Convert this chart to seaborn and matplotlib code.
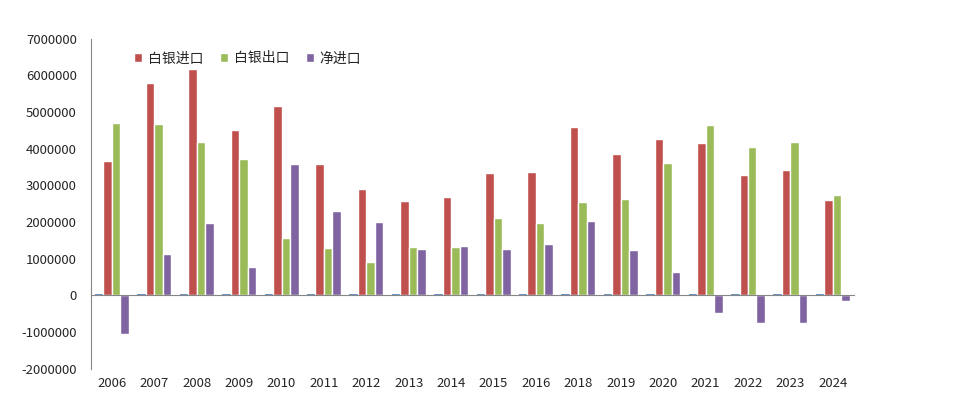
import pandas as pd
import seaborn as sns
import matplotlib.pyplot as plt

# Data
years = ["2006", "2007", "2008", "2009", "2010", "2011", "2012", "2013", "2014",
         "2015", "2016", "2018", "2019", "2020", "2021", "2022", "2023", "2024"]
year_values = [2006, 2007, 2008, 2009, 2010, 2011, 2012, 2013, 2014,
               2015, 2016, 2018, 2019, 2020, 2021, 2022, 2023, 2024]
silver_import = [3670000, 5800000, 6190000, 4500000, 5170000, 3590000, 2910000, 2580000, 2690000,
                 3340000, 3370000, 4600000, 3860000, 4270000, 4160000, 3290000, 3420000, 2610000]
silver_export = [4700000, 4680000, 4190000, 3720000, 1560000, 1290000, 920000, 1330000, 1330000,
                 2120000, 1980000, 2550000, 2630000, 3620000, 4650000, 4050000, 4190000, 2740000]
net_import = [-1040000, 1130000, 1980000, 770000, 3590000, 2310000, 2010000, 1270000, 1350000,
              1270000, 1410000, 2030000, 1240000, 650000, -470000, -740000, -740000, -160000]

series_names = ["年份", "白银进口", "白银出口", "净进口"]
palette = ["#4F81BD", "#C0504D", "#9BBB59", "#8064A2"]

# Long-form table for seaborn
df = pd.concat([
    pd.DataFrame({"year": years, "series": name, "value": vals})
    for name, vals in zip(series_names, [year_values, silver_import, silver_export, net_import])
])

sns.set_style("white")
plt.rcParams["font.family"] = ["Noto Sans CJK SC", "DejaVu Sans"]

fig, ax = plt.subplots(figsize=(9.65, 4.13), dpi=100)
fig.subplots_adjust(left=0.094, right=0.885, top=0.906, bottom=0.107)

sns.barplot(data=df, x="year", y="value", hue="series", order=years,
            hue_order=series_names, palette=palette, width=0.8,
            saturation=1, ax=ax)

# the tiny year series only shows as a thin line
for bar in ax.containers[0]:
    bar.set_edgecolor("#4F81BD")
    bar.set_linewidth(1.2)

ax.set_ylim(-2000000, 7000000)
ax.set_xlim(-0.5, len(years) - 0.5)
yt = list(range(-2000000, 7000001, 1000000))
ax.set_yticks(yt, labels=[str(v) for v in yt])
ax.tick_params(axis="y", length=4, color="#868686", labelsize=9.5, pad=6)

# category axis crosses at zero, tick marks at group boundaries
ax.spines["bottom"].set_position(("data", 0))
ax.spines["bottom"].set_color("#868686")
ax.spines["left"].set_color("#868686")
ax.spines["top"].set_visible(False)
ax.spines["right"].set_visible(False)
ax.set_xticks([i - 0.5 for i in range(len(years) + 1)], labels=[""] * (len(years) + 1))
ax.tick_params(axis="x", length=4, color="#868686", direction="out")

sec = ax.secondary_xaxis("bottom")
sec.set_xticks(range(len(years)), labels=years)
sec.tick_params(length=0, labelsize=9.5, pad=6)
sec.spines["bottom"].set_visible(False)

ax.set_xlabel("")
ax.set_ylabel("")

handles, labels = ax.get_legend_handles_labels()
keep = [i for i, l in enumerate(labels) if l != "年份"]
ax.legend([handles[i] for i in keep], [labels[i] for i in keep],
          loc="upper left", bbox_to_anchor=(0.04, 1.0), ncol=3, frameon=False,
          fontsize=10, handlelength=0.6, handleheight=0.6, handletextpad=0.4,
          columnspacing=1.2)

plt.savefig("out.png")
